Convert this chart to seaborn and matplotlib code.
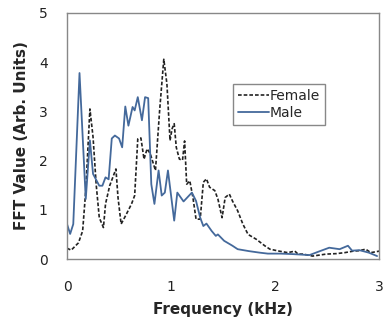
import numpy as np
import pandas as pd
import matplotlib
matplotlib.use('Agg')
import matplotlib.pyplot as plt
import seaborn as sns

# Frequency (kHz) and FFT values
female_freq = [0, 0.04, 0.11, 0.15, 0.18, 0.22, 0.25, 0.28, 0.31, 0.35, 0.37, 0.41, 0.44, 0.47,
               0.49, 0.52, 0.57, 0.62, 0.65, 0.68, 0.71, 0.74, 0.77, 0.80, 0.85, 0.89, 0.93, 0.96,
               0.99, 1.01, 1.03, 1.05, 1.08, 1.11, 1.13, 1.15, 1.18, 1.21, 1.24, 1.28, 1.31, 1.34,
               1.37, 1.42, 1.45, 1.49, 1.52, 1.56, 1.59, 1.64, 1.69, 1.74, 1.82, 1.90, 1.95, 2.04,
               2.12, 2.19, 2.22, 2.27, 2.36, 2.49, 2.59, 2.67, 2.75, 2.81, 2.87, 2.92, 3.0]
female_fft = [0.22, 0.18, 0.33, 0.57, 1.39, 3.05, 2.48, 1.52, 0.84, 0.64, 1.12, 1.49, 1.66, 1.83,
              1.25, 0.71, 0.91, 1.12, 1.29, 2.44, 2.46, 2.03, 2.24, 2.14, 1.80, 3.02, 4.06, 3.56,
              2.41, 2.65, 2.75, 2.27, 2.03, 2.01, 2.40, 1.52, 1.59, 1.25, 0.81, 0.81, 1.56, 1.63,
              1.46, 1.39, 1.22, 0.84, 1.25, 1.32, 1.18, 0.98, 0.71, 0.50, 0.40, 0.27, 0.20, 0.16,
              0.13, 0.16, 0.10, 0.10, 0.06, 0.10, 0.11, 0.13, 0.16, 0.17, 0.20, 0.13, 0.16]

male_freq = [0, 0.03, 0.06, 0.12, 0.18, 0.22, 0.25, 0.31, 0.34, 0.37, 0.40, 0.43, 0.46, 0.50,
             0.53, 0.56, 0.59, 0.63, 0.65, 0.68, 0.72, 0.75, 0.78, 0.81, 0.84, 0.88, 0.91, 0.94,
             0.97, 1.03, 1.06, 1.12, 1.20, 1.24, 1.28, 1.31, 1.34, 1.39, 1.43, 1.45, 1.51, 1.59,
             1.64, 1.75, 1.85, 1.93, 2.05, 2.17, 2.33, 2.43, 2.52, 2.62, 2.70, 2.74, 2.81, 2.90, 2.98]
male_fft = [0.71, 0.51, 0.71, 3.78, 1.22, 2.41, 1.73, 1.49, 1.49, 1.66, 1.62, 2.45, 2.51, 2.45,
            2.27, 3.10, 2.71, 3.09, 3.02, 3.29, 2.82, 3.29, 3.27, 1.52, 1.12, 1.80, 1.29, 1.35,
            1.80, 0.78, 1.35, 1.17, 1.35, 1.18, 0.84, 0.67, 0.72, 0.57, 0.47, 0.50, 0.37, 0.27,
            0.20, 0.16, 0.13, 0.11, 0.11, 0.10, 0.08, 0.16, 0.23, 0.20, 0.27, 0.17, 0.18, 0.13, 0.06]

x_ticks = [0, 1, 2, 3]
y_ticks = [0, 1, 2, 3, 4, 5]

sns.set_style("white")
plt.rcParams['font.family'] = ['DejaVu Sans']

fig = plt.figure(figsize=(3.83, 3.25), dpi=100)
ax = fig.add_axes([0.175, 0.203, 0.815, 0.757])

female = pd.DataFrame({'f': female_freq, 'v': female_fft})
male = pd.DataFrame({'f': male_freq, 'v': male_fft})

sns.lineplot(data=female, x='f', y='v', ax=ax, color='#222222', lw=1.2,
             linestyle=(0, (2.2, 1.2)), label='Female')
sns.lineplot(data=male, x='f', y='v', ax=ax, color='#44699b', lw=1.3, label='Male')

ax.set_xlim(0, 3)
ax.set_ylim(0, 5)
ax.set_xticks(x_ticks)
ax.set_yticks(y_ticks)
ax.tick_params(direction='in', length=4, color='#888888', labelsize=10, labelcolor='#222222')
ax.tick_params(axis='x', pad=15)
ax.tick_params(axis='y', pad=14)
for s in ax.spines.values():
    s.set_color('#888888')
    s.set_linewidth(1.0)

ax.set_xlabel('Frequency (kHz)', fontsize=11, fontweight='bold', labelpad=6)
ax.set_ylabel('FFT Value (Arb. Units)', fontsize=11, fontweight='bold', labelpad=7)

leg = ax.legend(loc='upper left', bbox_to_anchor=(0.532, 0.711), borderaxespad=0,
                fancybox=False, edgecolor='#888888', framealpha=1, fontsize=10,
                handlelength=2.2, handletextpad=0.1, borderpad=0.35, labelspacing=0.2)
leg.get_frame().set_linewidth(1.0)

fig.savefig('out.png', dpi=100)
